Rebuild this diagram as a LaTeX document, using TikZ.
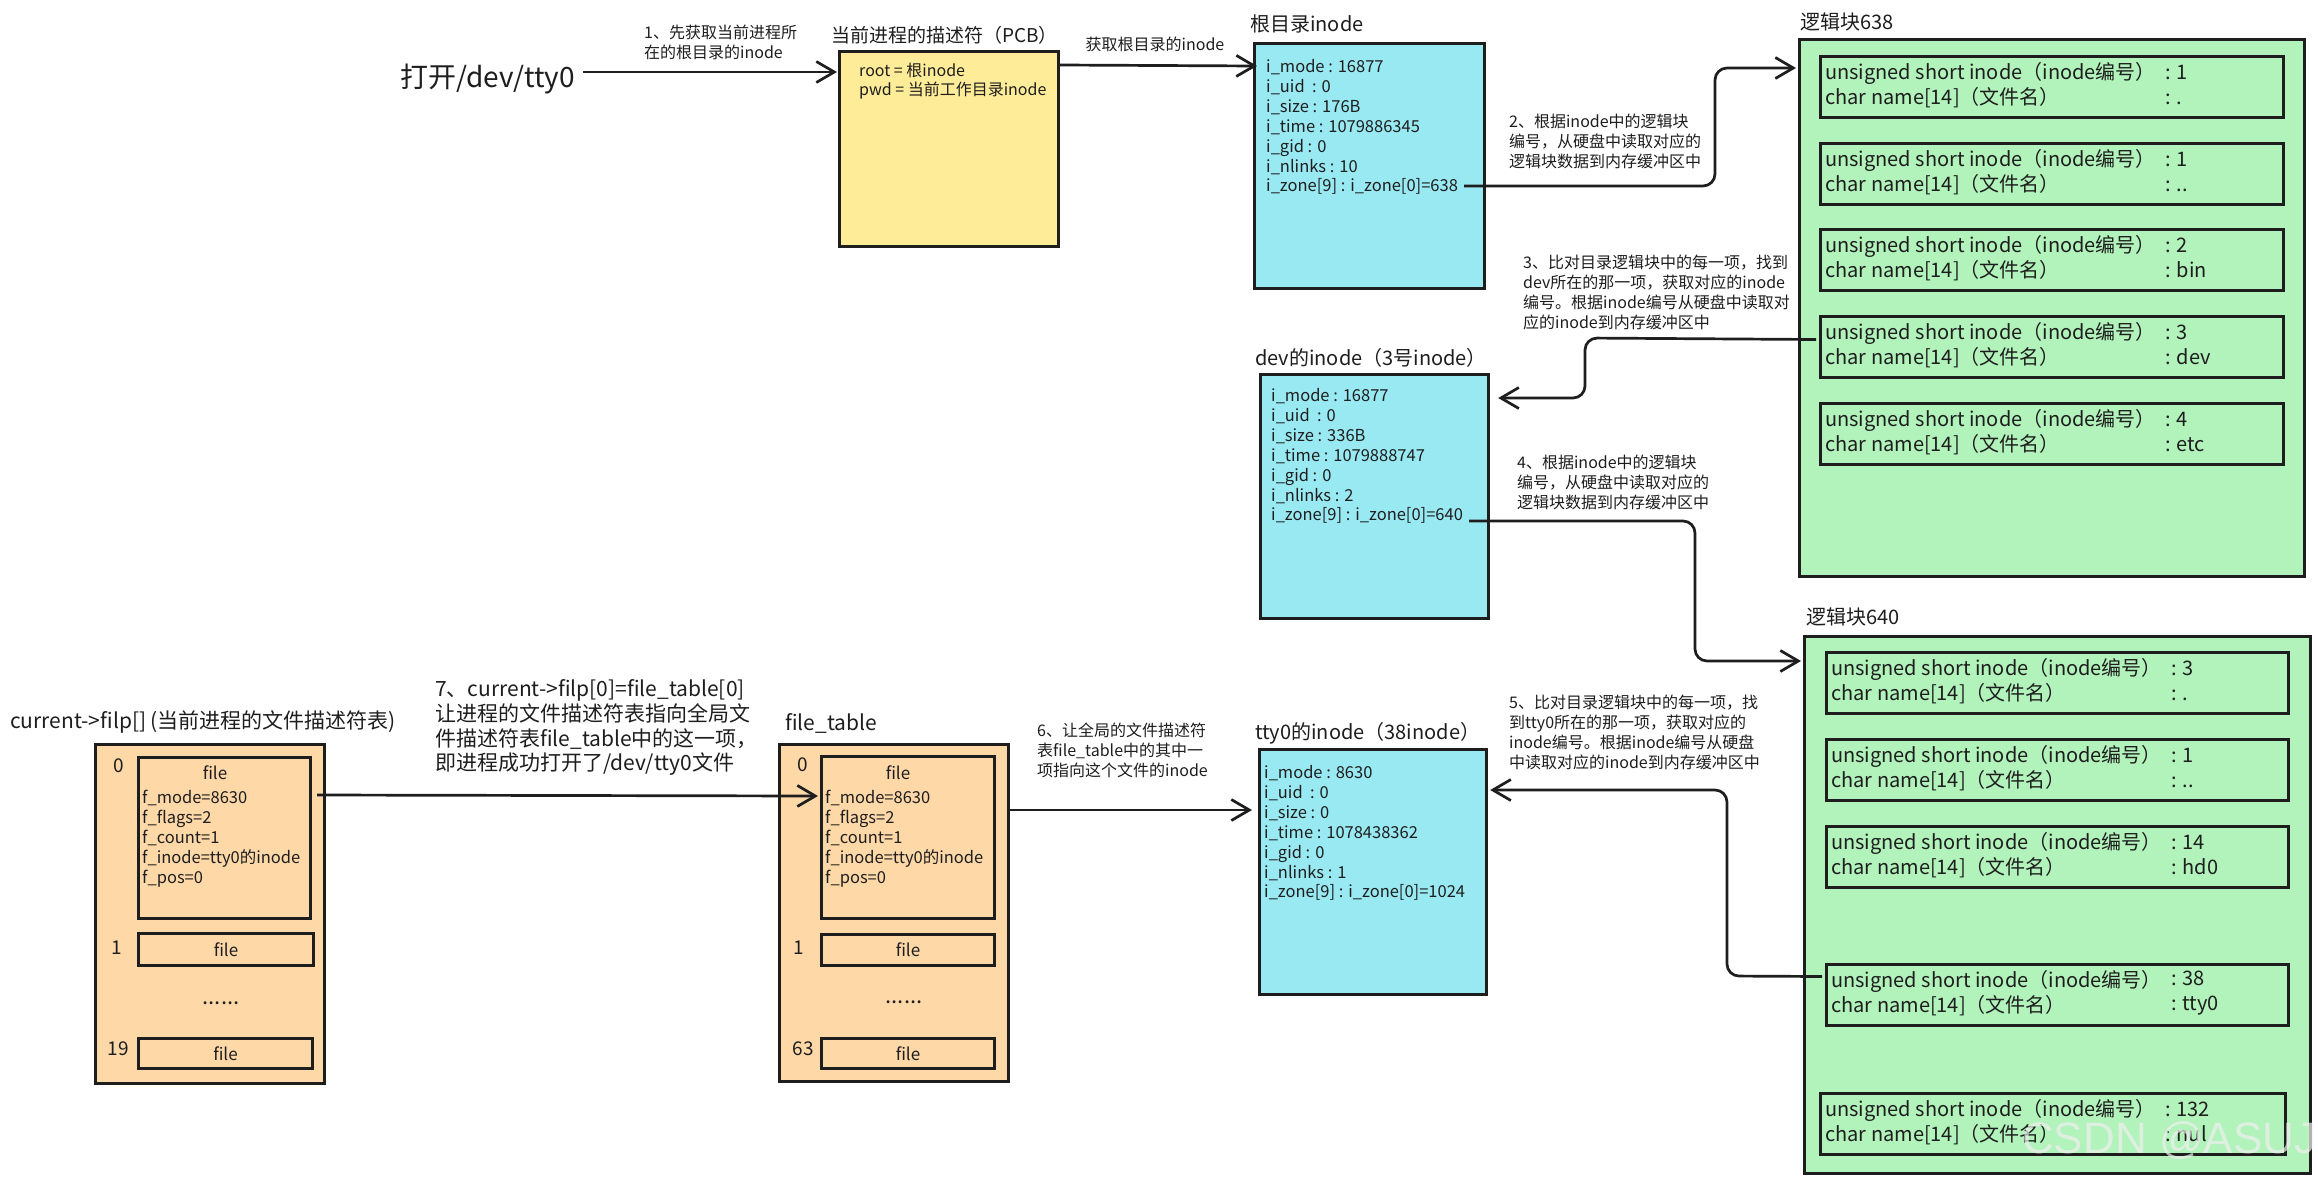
\documentclass[tikz,border=0pt]{standalone}
\usepackage{fontspec}
\setmainfont{Noto Sans CJK SC}
\newfontfamily\wmfont{Liberation Sans}
\usetikzlibrary{arrows.meta,calc}
\definecolor{pcbyellow}{HTML}{FFEC99}
\definecolor{inodecyan}{HTML}{99E9F2}
\definecolor{blockgreen}{HTML}{B2F2BB}
\definecolor{fileorange}{HTML}{FFD8A8}
\definecolor{ink}{HTML}{1E1E1E}
\newcommand\mkentry[6]{%
  \node[entrybox, minimum width=#4] (#1) at (#2,#3) {};
  \node[etext] (#1l) at ($(#1.north west)+(6,30)$) {unsigned short inode（inode编号）\\char name[14]（文件名）};
  \node[etext] (#1v) at ($(#1.north west)+(346,30)$) {: #5\\: #6};
}
\begin{document}
\begin{tikzpicture}[x=1pt,y=-1pt,
  box/.style={draw=ink, line width=3.2pt, anchor=north west, inner sep=0pt, rectangle},
  entrybox/.style={box, line width=3pt, minimum height=61pt},
  fbox/.style={box, line width=3pt},
  etext/.style={anchor=west, align=left, inner sep=0pt, font=\fontsize{20}{25}\selectfont, text=ink},
  note/.style={anchor=north west, align=left, inner sep=0pt, font=\fontsize{16}{20}\selectfont, text=ink},
  itext/.style={anchor=north west, align=left, inner sep=0pt, font=\fontsize{16.5}{20}\selectfont, text=ink},
  ztext/.style={anchor=west, inner sep=0pt, font=\fontsize{16.5}{20}\selectfont, text=ink},
  ttl/.style={anchor=west, inner sep=0pt, font=\fontsize{20}{24}\selectfont, text=ink},
  idx/.style={anchor=center, inner sep=0pt, font=\fontsize{19}{22}\selectfont, text=ink},
  ctext/.style={anchor=center, inner sep=0pt, font=\fontsize{17}{20}\selectfont, text=ink},
  arr/.style={draw=ink, line width=2.7pt, -{Straight Barb[length=18pt,width=21pt]}},
  conn/.style={arr, rounded corners=12pt},
]
\fill[white] (0,0) rectangle (2318,1181);
\useasboundingbox (0,0) rectangle (2318,1181);

% ---------- open + PCB ----------
\node[anchor=west, inner sep=0pt, font=\fontsize{28}{32}\selectfont, text=ink] (open) at (400,79) {打开/dev/tty0};
\node[note] (n1) at (644,25) {1、先获取当前进程所\\在的根目录的inode};
\node[ttl, font=\fontsize{19}{24}\selectfont] (pcbt) at (831,35) {当前进程的描述符（PCB）};
\node[box, fill=pcbyellow, minimum width=219pt, minimum height=195pt] (pcb) at (838,50) {};
\node[itext, font=\fontsize{16}{19}\selectfont] (pcbl) at (859,63) {root = 根inode\\pwd = 当前工作目录inode};
\draw[arr] ($(open.east)+(8,-7)$) -- ($(pcb.north west)+(-1,22)$);

% ---------- root inode ----------
\node[ttl] (roott) at (1250,24) {根目录inode};
\node[box, fill=inodecyan, minimum width=230pt, minimum height=245pt] (root) at (1253,42) {};
\node[itext] (rootl) at (1266,59.5) {i\_mode : 16877\\i\_uid\ \ : 0\\i\_size : 176B\\i\_time : 1079886345\\i\_gid : 0\\i\_nlinks : 10};
\node[ztext] (rootz) at (1266,186) {i\_zone[9] : i\_zone[0]=638};
\node[anchor=center, inner sep=0pt, font=\fontsize{16}{20}\selectfont, text=ink] (lbl2) at (1155,44) {获取根目录的inode};
\draw[arr] ($(pcb.north east)+(0,15)$) -- ($(root.north west)+(4,24)$);

% ---------- block 638 ----------
\node[ttl] (b638t) at (1800,22) {逻辑块638};
\node[box, fill=blockgreen, minimum width=505pt, minimum height=537pt] (b638) at (1798,38) {};
\mkentry{ea}{1819}{55}{463}{1}{.}
\mkentry{eb}{1819}{142}{463}{1}{..}
\mkentry{ec}{1819}{228}{463}{2}{bin}
\mkentry{ed}{1819}{315}{463}{3}{dev}
\mkentry{ee}{1819}{402}{463}{4}{etc}
\draw[conn] ($(rootz.east)+(6,0)$) -- (1715,186) -- (1715,68) -- ($(b638.north west)+(-2,30)$);
\node[note] (n2) at (1509,114) {2、根据inode中的逻辑块\\编号，从硬盘中读取对应的\\逻辑块数据到内存缓冲区中};
\node[note] (n3) at (1523,255) {3、比对目录逻辑块中的每一项，找到\\dev所在的那一项，获取对应的inode\\编号。根据inode编号从硬盘中读取对\\应的inode到内存缓冲区中};

% ---------- dev inode ----------
\node[ttl] (devt) at (1255,358) {dev的inode（3号inode）};
\node[box, fill=inodecyan, minimum width=228pt, minimum height=244pt] (dev) at (1259,373) {};
\node[itext] (devl) at (1271,388.5) {i\_mode : 16877\\i\_uid\ \ : 0\\i\_size : 336B\\i\_time : 1079888747\\i\_gid : 0\\i\_nlinks : 2};
\node[ztext] (devz) at (1271,515) {i\_zone[9] : i\_zone[0]=640};
\draw[conn] ($(ed.west)+(-3,-7.5)$) -- (1585,338) -- (1585,398) -- ($(dev.north east)+(8,25)$);
\node[note] (n4) at (1517,455) {4、根据inode中的逻辑块\\编号，从硬盘中读取对应的\\逻辑块数据到内存缓冲区中};

% ---------- block 640 ----------
\node[ttl] (b640t) at (1806,617) {逻辑块640};
\node[box, fill=blockgreen, minimum width=506pt, minimum height=537pt] (b640) at (1803,635) {};
\mkentry{fa}{1825}{651}{462}{3}{.}
\mkentry{fb}{1825}{738}{462}{1}{..}
\mkentry{fc}{1825}{825}{462}{14}{hd0}
\mkentry{fd}{1825}{963}{462}{38}{tty0}
\mkentry{fe}{1819}{1092}{465}{132}{nul}
\draw[conn] ($(devz.east)+(6,6)$) -- (1695,521) -- (1695,661) -- ($(b640.north west)+(-2,26)$);
\node[note] (n5) at (1509,695) {5、比对目录逻辑块中的每一项，找\\到tty0所在的那一项，获取对应的\\inode编号。根据inode编号从硬盘\\中读取对应的inode到内存缓冲区中};

% ---------- tty0 inode ----------
\node[ttl] (ttyt) at (1255,733) {tty0的inode（38inode）};
\node[box, fill=inodecyan, minimum width=227pt, minimum height=245pt] (tty) at (1258,748) {};
\node[itext] (ttyl) at (1264,765.5) {i\_mode : 8630\\i\_uid\ \ : 0\\i\_size : 0\\i\_time : 1078438362\\i\_gid : 0\\i\_nlinks : 1};
\node[ztext] (ttyz) at (1264,892) {i\_zone[9] : i\_zone[0]=1024};
\draw[conn] ($(fd.west)+(-3,-18.5)$) -- (1727,976) -- (1727,790) -- ($(tty.north east)+(2,42)$);

% ---------- file_table ----------
\node[ttl, font=\fontsize{21}{24}\selectfont] (ftt) at (785,723) {file\_table};
\node[box, fill=fileorange, minimum width=229pt, minimum height=337pt] (ft) at (778,743) {};
\node[idx] (ftn0) at (803,765) {0};
\node[fbox, minimum width=173pt, minimum height=162pt] (ft0) at (820,755) {};
\node[ctext] (ft0h) at (898,773) {file};
\node[itext] (ft0l) at (825,789.6) {f\_mode=8630\\f\_flags=2\\f\_count=1\\f\_inode=tty0的inode\\f\_pos=0};
\node[idx] (ftn1) at (799,948) {1};
\node[fbox, minimum width=173pt, minimum height=31pt] (ft1) at (820,933) {};
\node[ctext] (ft1h) at (ft1.center) {file};
\node[ctext, font=\fontsize{22}{22}\selectfont] (ftdots) at (904,1002) {......};
\node[idx] (ftn63) at (803,1049) {63};
\node[fbox, minimum width=173pt, minimum height=30pt] (ft63) at (820,1037) {};
\node[ctext] (ft63h) at (ft63.center) {file};
\node[note] (n6) at (1037,723) {6、让全局的文件描述符\\表file\_table中的其中一\\项指向这个文件的inode};
\draw[arr] ($(ft.north east)+(0,67)$) -- ($(tty.north west)+(-6,62)$);

% ---------- current->filp ----------
\node[ttl, font=\fontsize{21}{24}\selectfont] (fpt) at (10,722) {current->filp[] (当前进程的文件描述符表)};
\node[box, fill=fileorange, minimum width=229pt, minimum height=339pt] (fp) at (94,743) {};
\node[idx] (fpn0) at (119,766) {0};
\node[fbox, minimum width=172pt, minimum height=161pt] (fp0) at (137,756) {};
\node[ctext] (fp0h) at (215,773) {file};
\node[itext] (fp0l) at (142,789.6) {f\_mode=8630\\f\_flags=2\\f\_count=1\\f\_inode=tty0的inode\\f\_pos=0};
\node[idx] (fpn1) at (117,948) {1};
\node[fbox, minimum width=175pt, minimum height=32pt] (fp1) at (137,932) {};
\node[ctext] (fp1h) at (fp1.center) {file};
\node[ctext, font=\fontsize{22}{22}\selectfont] (fpdots) at (221,1003) {......};
\node[idx] (fpn19) at (118,1049) {19};
\node[fbox, minimum width=174pt, minimum height=30pt] (fp19) at (137,1037) {};
\node[ctext] (fp19h) at (fp19.center) {file};
\draw[arr] ($(fp0.north east)+(5,39)$) -- ($(ft0.north west)+(-2,41)$);
\node[note, font=\fontsize{21}{24.7}\selectfont] (n7) at (435,679.5) {7、current->filp[0]=file\_table[0]\\让进程的文件描述符表指向全局文\\件描述符表file\_table中的这一项，\\即进程成功打开了/dev/tty0文件};

% ---------- watermark ----------
\node[anchor=west, inner sep=0pt, font=\wmfont\fontsize{44}{48}\selectfont, text=gray!12, opacity=0.7] (wm) at (2022,1141) {CSDN @ASUJY};
\end{tikzpicture}
\end{document}
